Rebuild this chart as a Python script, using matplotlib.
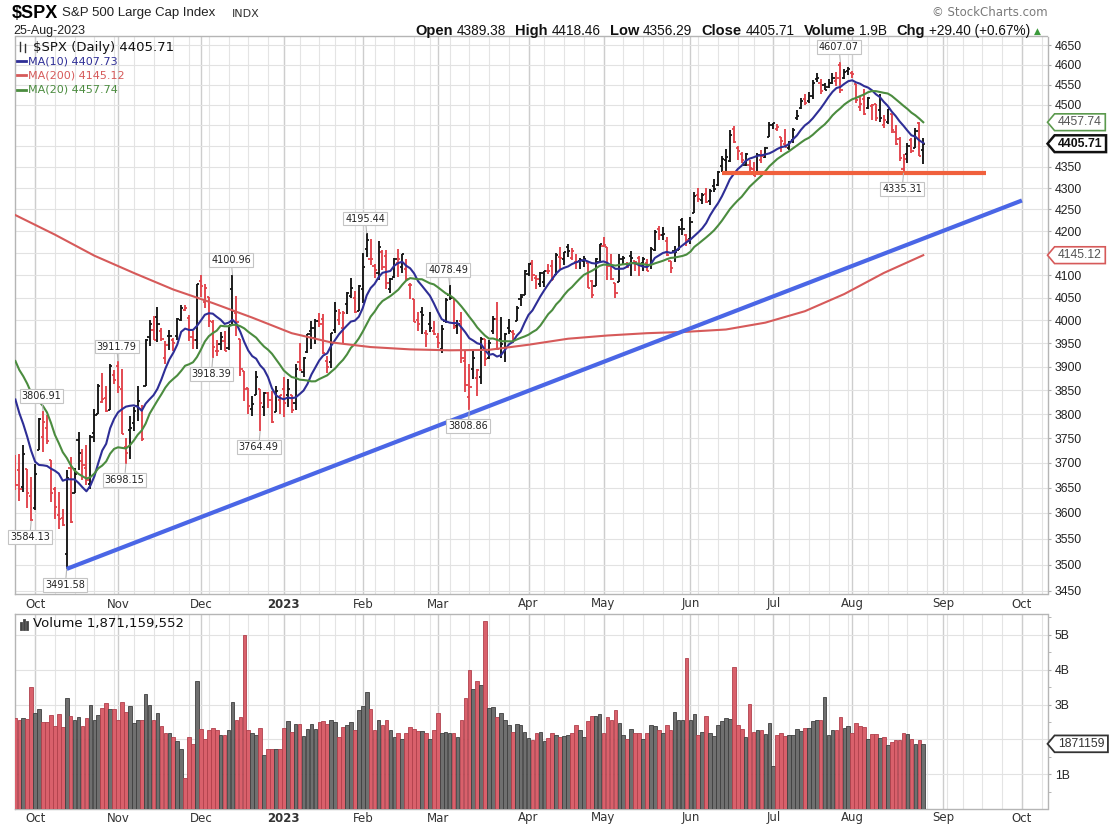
import matplotlib
matplotlib.use("Agg")
import matplotlib.pyplot as plt
from matplotlib.path import Path
from matplotlib.lines import Line2D
import numpy as np
import pandas as pd

W, H = 1111, 832

# ---- trading calendar (NYSE holidays removed) ----
holidays = ["2022-11-24", "2022-12-26", "2023-01-02", "2023-01-16", "2023-02-20",
            "2023-04-07", "2023-05-29", "2023-06-19", "2023-07-04", "2023-09-04"]
all_days = pd.bdate_range("2022-09-26", "2023-10-31")
all_days = all_days[~all_days.isin(pd.to_datetime(holidays))]
dates = all_days[all_days <= "2023-08-25"]

# closes before the window, only used for the 10/20 day averages
prior_closes = [4030.61, 3986.16, 3955.00, 3966.85, 3924.26, 3908.19, 3979.87, 4006.18,
                4067.36, 4110.41, 3932.69, 3946.01, 3901.35, 3873.33, 3899.89, 3855.93,
                3789.93, 3757.99, 3693.23]

opens = [
    3682.72, 3686.44, 3651.94, 3687.01, 3633.48,
    3609.78, 3726.46, 3753.25, 3771.97, 3706.74, 3647.51, 3595.86, 3590.83, 3520.37, 3690.41, 3638.65,
    3746.26, 3703.11, 3689.05, 3657.10, 3762.01, 3799.44, 3825.97, 3834.69, 3808.26, 3881.85,
    3901.79, 3852.90, 3733.25, 3766.98, 3780.71, 3817.02, 3810.94, 3859.89, 3963.72, 3977.97, 4006.41,
    3976.82, 3919.26, 3966.39, 3956.23, 3965.51, 4000.30, 4023.34, 4005.36, 3964.19, 3957.18,
    4087.14, 4040.17, 4052.02, 3996.63, 3933.28, 3947.79, 3954.17, 3939.29, 4069.38, 4015.54, 3958.37,
    3890.91, 3853.79, 3810.47, 3839.49, 3853.26, 3815.11, 3843.34, 3829.56, 3805.45, 3829.06,
    3853.29, 3840.36, 3839.74, 3823.37, 3910.82, 3888.57, 3932.35, 3977.57, 3960.60, 3999.28,
    4002.25, 3911.84, 3909.04, 3978.14, 4001.74, 3982.71, 4036.08, 4053.72, 4049.27, 4020.85,
    4070.07, 4158.68, 4136.69, 4119.57, 4105.35, 4153.47, 4144.25, 4068.92, 4096.62, 4126.70,
    4119.50, 4114.75, 4077.39, 4046.74, 4001.83, 4018.60, 3973.24, 3992.36, 3977.19,
    3963.34, 3938.68, 3998.02, 4055.15, 4048.26, 3987.55, 3998.66, 3912.77, 3835.12, 3894.01, 3876.74,
    3878.93, 3958.69, 3917.47, 3975.89, 4002.04, 3959.21, 3939.21, 3982.93, 3974.13, 3999.53, 4046.74, 4056.18,
    4102.20, 4128.03, 4094.50, 4081.15, 4085.20, 4110.29, 4121.72, 4100.04, 4140.11, 4137.17,
    4164.26, 4139.33, 4130.48, 4132.14, 4132.07, 4126.43, 4087.78, 4075.29, 4129.63,
    4166.79, 4164.10, 4122.25, 4082.61, 4084.73, 4136.98, 4124.25, 4143.74, 4132.24, 4138.54, 4126.65,
    4127.95, 4122.85, 4157.68, 4204.15, 4190.78, 4176.80, 4132.96, 4155.71, 4156.16, 4226.71, 4190.74,
    4183.03, 4241.01, 4282.99, 4271.34, 4285.47, 4268.69, 4304.88, 4308.32, 4352.61, 4366.29, 4365.33,
    4440.95, 4396.11, 4380.01, 4355.40, 4354.17, 4344.84, 4337.36, 4367.48, 4374.94, 4422.44,
    4450.48, 4442.04, 4422.62, 4404.54, 4394.23, 4415.55, 4467.69, 4491.50, 4514.61, 4508.86,
    4521.78, 4563.87, 4554.38, 4550.16, 4543.39, 4555.19, 4558.96, 4598.26, 4565.75, 4584.82,
    4578.83, 4550.93, 4494.27, 4513.96, 4491.58, 4498.03, 4501.57, 4487.16, 4450.69, 4458.13,
    4478.87, 4433.79, 4416.32, 4344.88, 4380.28, 4415.33, 4396.44, 4455.16, 4389.38,
]

highs = [
    3715.67, 3717.53, 3736.74, 3687.01, 3671.44,
    3698.35, 3791.92, 3806.91, 3797.93, 3706.74, 3652.17, 3640.66, 3608.34, 3685.41, 3712.00, 3689.73,
    3762.79, 3728.58, 3736.00, 3757.89, 3810.74, 3862.85, 3886.15, 3859.95, 3905.42, 3893.73,
    3911.79, 3894.44, 3750.59, 3796.34, 3813.95, 3859.40, 3818.20, 3958.33, 4001.48, 4008.97, 4028.84,
    3983.09, 3954.33, 3979.89, 3962.00, 4005.88, 4033.78, 4034.02, 4012.27, 3976.77, 4080.11,
    4100.51, 4080.48, 4052.45, 4001.51, 3957.57, 3974.19, 3977.02, 3990.71, 4100.96, 4053.76, 3958.37,
    3890.91, 3854.86, 3838.24, 3889.82, 3853.26, 3845.80, 3846.65, 3848.32, 3858.19, 3839.85,
    3878.46, 3873.16, 3839.74, 3906.19, 3950.57, 3919.83, 3970.07, 3997.76, 4003.95, 4015.39,
    4014.16, 3922.94, 3972.96, 4039.31, 4023.92, 4019.55, 4061.57, 4094.21, 4063.85, 4077.16,
    4148.95, 4195.44, 4182.36, 4124.63, 4176.54, 4156.85, 4156.23, 4094.36, 4138.90, 4159.77,
    4148.11, 4136.54, 4081.51, 4046.74, 4017.37, 4028.30, 3978.25, 4018.05, 3997.50,
    3971.73, 3990.84, 4048.29, 4078.49, 4050.00, 4000.41, 4017.81, 3934.05, 3905.05, 3937.29, 3894.26,
    3964.46, 3958.91, 3956.62, 4009.08, 4039.49, 4007.66, 3972.74, 4003.83, 3979.20, 4030.59, 4057.85, 4110.75,
    4127.66, 4133.13, 4099.69, 4107.32, 4109.50, 4124.26, 4134.37, 4150.26, 4163.19, 4151.72,
    4169.48, 4162.57, 4148.57, 4138.02, 4142.41, 4126.43, 4089.67, 4138.24, 4170.06,
    4186.92, 4164.10, 4148.30, 4082.61, 4147.02, 4142.30, 4130.35, 4154.28, 4132.80, 4143.74, 4141.25,
    4135.54, 4164.67, 4202.20, 4212.91, 4209.22, 4185.68, 4132.96, 4165.74, 4212.87, 4231.10, 4192.92,
    4232.43, 4290.67, 4299.28, 4288.33, 4299.19, 4298.01, 4322.62, 4340.13, 4375.37, 4391.82, 4439.20,
    4448.47, 4400.15, 4386.22, 4382.25, 4366.55, 4362.06, 4384.42, 4390.35, 4398.39, 4458.48,
    4456.46, 4454.06, 4422.62, 4440.39, 4412.60, 4443.64, 4488.34, 4517.38, 4527.76, 4532.85,
    4562.30, 4578.43, 4564.74, 4555.00, 4563.41, 4580.62, 4582.47, 4607.07, 4590.16, 4594.22,
    4584.62, 4550.93, 4519.49, 4540.34, 4519.84, 4503.31, 4502.44, 4527.37, 4476.23, 4490.33,
    4478.87, 4449.95, 4421.17, 4381.82, 4407.55, 4418.59, 4443.18, 4458.30, 4418.46,
]

lows = [
    3644.76, 3623.29, 3640.61, 3610.40, 3584.13,
    3604.93, 3726.46, 3722.66, 3739.22, 3620.73, 3588.10, 3568.45, 3573.86, 3491.58, 3579.68, 3638.65,
    3686.53, 3666.51, 3656.44, 3647.42, 3741.65, 3799.44, 3824.07, 3803.79, 3808.26, 3863.18,
    3843.80, 3758.68, 3698.15, 3708.84, 3764.70, 3786.28, 3744.22, 3859.89, 3944.82, 3956.40, 3953.17,
    3954.34, 3906.54, 3935.98, 3933.34, 3956.88, 3998.66, 4020.76, 3955.77, 3937.65, 3938.58,
    4050.87, 4026.63, 3984.49, 3918.39, 3922.68, 3935.83, 3933.04, 3935.30, 3993.03, 3965.65, 3879.45,
    3827.91, 3800.04, 3795.62, 3839.49, 3764.49, 3797.01, 3813.22, 3780.78, 3805.45, 3800.34,
    3794.33, 3815.77, 3802.42, 3809.56, 3890.42, 3877.29, 3928.54, 3937.56, 3947.67, 3984.57,
    3926.59, 3885.54, 3897.86, 3971.64, 3989.79, 3949.06, 4013.29, 4048.70, 4015.55, 4020.44,
    4037.20, 4141.88, 4123.36, 4093.38, 4088.39, 4111.67, 4069.67, 4060.79, 4092.67, 4095.01,
    4103.98, 4089.49, 4047.95, 3996.92, 3976.90, 3969.19, 3943.08, 3973.55, 3968.98,
    3939.05, 3928.16, 3995.17, 4044.61, 3980.31, 3969.76, 3908.70, 3846.32, 3808.86, 3873.63, 3838.24,
    3864.11, 3901.27, 3916.89, 3971.19, 3936.17, 3919.05, 3909.16, 3970.49, 3951.53, 3999.53, 4032.10, 4056.18,
    4098.79, 4086.87, 4069.84, 4073.60, 4072.55, 4102.61, 4086.94, 4099.40, 4113.20, 4123.18,
    4140.36, 4134.49, 4114.57, 4113.86, 4117.77, 4071.38, 4049.35, 4075.29, 4127.18,
    4164.12, 4089.72, 4088.86, 4048.28, 4084.73, 4123.81, 4116.65, 4098.92, 4109.29, 4099.12, 4110.27,
    4109.86, 4113.62, 4153.50, 4180.20, 4179.68, 4142.54, 4103.98, 4129.73, 4156.16, 4192.18, 4166.15,
    4171.64, 4241.01, 4266.82, 4263.09, 4263.96, 4261.07, 4291.70, 4304.37, 4337.54, 4337.85, 4362.60,
    4407.44, 4367.19, 4360.14, 4351.82, 4341.34, 4328.08, 4335.00, 4360.22, 4371.97, 4422.44,
    4442.29, 4436.61, 4385.05, 4397.40, 4389.92, 4408.46, 4463.23, 4489.36, 4499.56, 4504.90,
    4514.59, 4557.48, 4527.56, 4535.79, 4541.29, 4552.42, 4547.58, 4528.56, 4564.01, 4573.14,
    4567.53, 4505.75, 4485.54, 4474.55, 4491.15, 4464.39, 4461.33, 4457.92, 4443.98, 4453.44,
    4432.19, 4403.55, 4364.83, 4335.31, 4360.30, 4382.77, 4396.44, 4375.55, 4356.29,
]

closes = [
    3655.04, 3647.29, 3719.04, 3640.47, 3585.62,
    3678.43, 3790.93, 3783.28, 3744.52, 3639.66, 3612.39, 3588.84, 3577.03, 3669.91, 3583.07, 3677.95,
    3719.98, 3695.16, 3665.78, 3752.75, 3797.34, 3859.11, 3830.60, 3807.30, 3901.06, 3871.98,
    3856.10, 3759.69, 3719.89, 3770.55, 3806.80, 3828.11, 3748.57, 3956.37, 3992.93, 3957.25, 3991.73,
    3958.79, 3946.56, 3965.34, 3949.94, 4003.58, 4027.26, 4026.12, 3963.94, 3957.63, 4080.11,
    4076.57, 4071.70, 3998.84, 3941.26, 3933.92, 3963.51, 3934.38, 3990.56, 4019.65, 3995.32, 3895.75,
    3852.36, 3817.66, 3821.62, 3878.44, 3822.39, 3844.82, 3829.25, 3783.22, 3849.28, 3839.50,
    3824.14, 3852.97, 3808.10, 3895.08, 3892.09, 3919.25, 3969.61, 3983.17, 3999.09, 3990.97,
    3928.86, 3898.85, 3972.61, 4019.81, 4016.95, 4016.22, 4060.43, 4070.56, 4017.77, 4076.60,
    4119.21, 4179.76, 4136.48, 4111.08, 4164.00, 4117.86, 4081.50, 4090.46, 4137.29, 4136.13,
    4147.60, 4090.41, 4079.09, 3997.34, 3991.05, 4012.32, 3970.04, 3982.24, 3970.15,
    3951.39, 3981.35, 4045.64, 4048.42, 3986.37, 3992.01, 3918.32, 3861.59, 3855.76, 3919.29, 3891.93,
    3960.28, 3916.64, 3951.57, 4002.87, 3936.97, 3948.72, 3970.99, 3977.53, 3971.27, 4027.81, 4050.83, 4109.31,
    4124.51, 4100.60, 4090.38, 4105.02, 4109.11, 4108.94, 4091.95, 4146.22, 4137.64, 4151.32,
    4154.87, 4154.52, 4129.79, 4133.52, 4137.04, 4071.63, 4055.99, 4135.35, 4169.48,
    4167.87, 4119.58, 4090.75, 4061.22, 4136.25, 4138.12, 4119.17, 4137.64, 4130.62, 4124.08, 4136.28,
    4109.90, 4158.77, 4198.05, 4191.98, 4192.63, 4145.58, 4115.24, 4151.28, 4205.45, 4205.52, 4179.83,
    4221.02, 4282.37, 4273.79, 4283.85, 4267.52, 4293.93, 4298.86, 4338.93, 4369.01, 4372.59, 4425.84,
    4409.59, 4388.71, 4365.69, 4381.89, 4348.33, 4328.82, 4378.41, 4376.86, 4396.44, 4450.38,
    4455.59, 4446.82, 4411.59, 4398.95, 4409.53, 4439.26, 4472.16, 4510.04, 4505.42, 4522.79,
    4554.98, 4565.72, 4534.87, 4536.34, 4554.64, 4567.46, 4566.75, 4537.41, 4582.23, 4588.96,
    4576.73, 4513.39, 4501.89, 4478.03, 4518.44, 4499.38, 4467.71, 4468.83, 4464.05, 4489.72,
    4437.86, 4404.33, 4370.36, 4369.71, 4399.77, 4387.55, 4436.01, 4376.31, 4405.71,
]

# volume in billions of shares
volumes = [
    2.61, 2.55, 2.61, 2.59, 3.49,
    2.76, 2.88, 2.50, 2.50, 2.69, 2.39, 2.73, 2.35, 3.19, 2.66, 2.55, 2.64, 2.39, 2.61, 3.00,
    2.57, 2.69, 2.90, 3.03, 2.88, 2.88,
    2.57, 3.07, 2.80, 2.95, 2.46, 2.57, 2.55, 3.30, 3.00, 2.57, 2.76, 2.37, 2.18, 2.18, 2.08,
    1.96, 1.71, 0.90, 2.07, 1.88, 3.67,
    2.31, 2.02, 2.26, 2.33, 2.26, 2.12, 2.12, 2.26, 3.06, 2.55, 2.65, 5.00, 2.26, 2.19, 2.12,
    2.34, 1.56, 1.73, 1.73, 1.73, 1.73,
    2.34, 2.53, 2.21, 2.44, 2.44, 2.09, 2.31, 2.44, 2.31, 2.50, 2.53, 2.44, 2.57, 2.50, 2.07,
    2.36, 2.40, 2.50, 2.26, 2.83,
    2.96, 3.37, 2.88, 2.26, 2.57, 2.41, 2.55, 2.26, 2.07, 2.18, 2.02, 2.17, 2.36, 2.31, 2.24,
    2.24, 2.17, 2.02, 2.26,
    2.75, 2.17, 2.21, 2.19, 2.17, 2.07, 2.55, 3.19, 3.98, 3.45, 3.68, 3.55, 5.40, 2.90, 2.93,
    2.65, 2.76, 2.57, 2.41, 2.21, 2.43, 2.41, 2.21,
    2.05, 1.99, 2.17, 2.21, 1.96, 2.04, 2.17, 2.12, 2.07, 2.09, 2.12, 2.17, 2.41, 2.26, 2.07,
    2.53, 2.67, 2.67, 2.72,
    2.18, 2.65, 2.55, 2.83, 2.46, 2.12, 2.02, 2.29, 2.17, 2.17, 2.02, 2.17, 2.41, 2.38, 2.26,
    2.18, 2.41, 2.26, 2.80, 2.57, 2.55, 4.35,
    2.55, 2.72, 2.12, 2.21, 2.67, 2.18, 2.09, 2.41, 2.53, 2.60, 2.58, 4.09, 2.41, 2.31, 2.07,
    3.02, 2.21, 2.26, 2.26, 2.15, 2.46,
    1.24, 2.12, 2.18, 2.09, 2.12, 2.12, 2.29, 2.23, 2.34, 2.34, 2.53, 2.57, 2.57, 3.21, 2.12,
    2.26, 2.26, 2.65, 2.34, 2.38,
    2.17, 2.46, 2.38, 2.36, 2.02, 2.15, 2.15, 2.05, 2.07, 1.84, 1.92, 1.97, 1.99, 2.18, 2.15,
    2.02, 1.87, 1.99, 1.871159552,
]

# 200-day average, read every 10th bar
ma200_every10 = [4237, 4192, 4144, 4105, 4068, 4038, 4006, 3972, 3952, 3942, 3937, 3935,
                 3936, 3947, 3960, 3967, 3972, 3975, 3980, 3995, 4020, 4058, 4105, 4145.12]

# value labels on swing highs / lows
label_dates = ["2022-09-30", "2022-10-13", "2022-10-05", "2022-11-03", "2022-11-01", "2022-12-06",
               "2022-12-13", "2022-12-22", "2023-02-02", "2023-03-06", "2023-03-13", "2023-07-27",
               "2023-08-18"]
label_values = [3584.13, 3491.58, 3806.91, 3698.15, 3911.79, 3918.39, 4100.96, 3764.49,
                4195.44, 4078.49, 3808.86, 4607.07, 4335.31]
label_side = ["below", "below", "above", "below", "above", "below", "above", "below",
              "above", "above", "below", "above", "below"]

# drawn lines
trend_dates = ["2022-10-13", "2023-10-02"]
trend_values = [3491.58, 4271.0]
support_dates = ["2023-06-13", "2023-09-19"]
support_value = 4335.31

month_names = ["Oct", "Nov", "Dec", "2023", "Feb", "Mar", "Apr", "May", "Jun", "Jul",
               "Aug", "Sep", "Oct"]

# ---------------------------------------------------------------
opens = np.array(opens); highs = np.array(highs)
lows = np.array(lows); closes = np.array(closes); volumes = np.array(volumes)
pos = {d: i for i, d in enumerate(all_days)}
x = np.arange(len(closes))

closes_all = pd.Series(prior_closes + list(closes))
ma10 = closes_all.rolling(10).mean().to_numpy()[len(prior_closes):]
ma20 = closes_all.rolling(20).mean().to_numpy()[len(prior_closes):]

prev = np.r_[prior_closes[-1], closes[:-1]]
up = closes >= prev
RED, BLK = "#e2434b", "#151515"
bar_cols = np.where(up, BLK, RED)

C_MA10, C_MA20, C_MA200 = "#2e2e96", "#4b8c3f", "#d65a5a"

fig = plt.figure(figsize=(W / 100, H / 100), dpi=100)
fig.patch.set_facecolor("white")


def fx(px):
    return px / W


def fy(py):
    return 1 - py / H


ax = fig.add_axes([fx(15), fy(594), (1048 - 15) / W, (594 - 36) / H])
axv = fig.add_axes([fx(15), fy(809), (1048 - 15) / W, (809 - 614) / H])
XMAX = 261.6

# week and month starts for the vertical grid
s = pd.Series(all_days)
week_start = [i for i in range(1, len(s)) if s[i].isocalendar()[1] != s[i - 1].isocalendar()[1]]
month_start = [i for i in range(1, len(s)) if s[i].month != s[i - 1].month]

for a in (ax, axv):
    a.set_xlim(-0.1, XMAX)
    for i in week_start:
        a.axvline(i, color="#e4e4e4", lw=0.8, zorder=0)
    for i in month_start:
        a.axvline(i, color="#cdcdcd", lw=1.0, zorder=0)
    for sp in a.spines.values():
        sp.set_color("#b5b5b5")
        sp.set_linestyle((0, (1, 1)))
        sp.set_linewidth(1.0)
    a.tick_params(axis="x", bottom=False, labelbottom=False)

# ---- price panel ----
ax.set_yscale("log")
ax.set_ylim(3444, 4673)
levels = np.arange(3450, 4651, 50)
for lv in levels:
    ax.axhline(lv, color="#e2e2e2", lw=0.8, zorder=0)
shown = [lv for lv in levels if lv not in (4400, 4450, 4150)]
ax.yaxis.tick_right()
ax.yaxis.set_minor_locator(matplotlib.ticker.NullLocator())
ax.set_yticks(shown)
ax.set_yticklabels([str(v) for v in shown], fontfamily="Liberation Sans", fontsize=8.8,
                   color="#222222")
ax.tick_params(axis="y", length=2, color="#aaaaaa", pad=3)

ax.vlines(x, lows, highs, colors=bar_cols, lw=1.35, zorder=3)
ax.hlines(opens, x - 0.55, x, colors=bar_cols, lw=1.3, zorder=3)
ax.hlines(closes, x, x + 0.55, colors=bar_cols, lw=1.3, zorder=3)

ax.plot(x, ma10, color=C_MA10, lw=1.5, zorder=4)
ax.plot(x, ma20, color=C_MA20, lw=1.5, zorder=4)
ax.plot(x[::10], ma200_every10, color=C_MA200, lw=1.5, zorder=4)

ax.plot([pos[pd.Timestamp(d)] for d in trend_dates], trend_values, color="#4a66e6",
        lw=3, solid_capstyle="butt", zorder=5)
ax.plot([pos[pd.Timestamp(d)] for d in support_dates], [support_value] * 2, color="#f0603c",
        lw=3, solid_capstyle="butt", zorder=5)

for d, v, side in zip(label_dates, label_values, label_side):
    off = 10.5 if side == "above" else -11.5
    ax.annotate(f"{v:.2f}", xy=(pos[pd.Timestamp(d)], v), xytext=(-1, off),
                textcoords="offset points", ha="center", va="center", fontsize=7,
                fontfamily="DejaVu Sans", color="#222222", zorder=6,
                bbox=dict(boxstyle="square,pad=0.2", fc="white", ec="#c4c4c4", lw=0.8),
                arrowprops=dict(arrowstyle="-", color="#b5b5b5", lw=0.8,
                                shrinkA=0, shrinkB=0))


def tag_shape(x0, y0, width, height, mutation_size):
    pad = 0.28 * mutation_size
    x0, y0, width, height = x0 - pad, y0 - pad * 0.7, width + 2 * pad, height + 1.4 * pad
    tip = height * 0.42
    verts = [(x0 - tip, y0 + height / 2), (x0, y0 + height), (x0 + width, y0 + height),
             (x0 + width, y0), (x0, y0), (x0 - tip, y0 + height / 2)]
    return Path(verts, closed=True)


def right_tag(a, val, text, ec, tc, bold=False, lw=1.2):
    a.text(1 + 10 / 1033, val, text, transform=a.get_yaxis_transform(), ha="left",
           va="center", fontsize=8.8, fontfamily="Liberation Sans", color=tc,
           fontweight="bold" if bold else "normal", clip_on=False, zorder=10,
           bbox=dict(boxstyle=tag_shape, fc="white", ec=ec, lw=lw))


right_tag(ax, ma20[-1], f"{ma20[-1]:.2f}", "#5c9a4e", "#555555")
right_tag(ax, closes[-1], f"{closes[-1]:.2f}", "#111111", "#111111", bold=True, lw=1.8)
right_tag(ax, ma200_every10[-1], f"{ma200_every10[-1]:.2f}", "#d65a5a", "#555555")

# ---- volume panel ----
vol_fill = np.where(up, "#6f6f6f", "#d9606b")
vol_edge = np.where(up, "#3f3f3f", "#b0404c")
axv.bar(x, volumes, width=0.92, color=vol_fill, edgecolor=vol_edge, lw=0.6, zorder=3)
axv.set_ylim(0, 5.6)
for lv in [1, 2, 3, 4, 5]:
    axv.axhline(lv, color="#e2e2e2", lw=0.8, zorder=0)
axv.yaxis.tick_right()
axv.set_yticks([1, 3, 4, 5])
axv.set_yticklabels(["1B", "3B", "4B", "5B"], fontfamily="Liberation Sans", fontsize=8.8,
                    color="#222222")
axv.set_yticks(np.arange(0.5, 5.6, 0.5), minor=True)
axv.tick_params(axis="y", which="both", length=2, color="#aaaaaa", pad=3)
axv.text(1 + 10 / 1033, volumes[-1], f"{volumes[-1] * 1e9:.0f}"[:7],
         transform=axv.get_yaxis_transform(), ha="left", va="center", fontsize=8.8,
         fontfamily="Liberation Sans", color="#333333", clip_on=False, zorder=10,
         bbox=dict(boxstyle=tag_shape, fc="white", ec="#333333", lw=1.3))

# month labels between and below the panels
for i, name in zip(month_start, month_names):
    fw = "bold" if name == "2023" else "normal"
    for a, yy in ((ax, -10 / 558), (axv, -9 / 195)):
        a.text(i, yy, name, transform=a.get_xaxis_transform(), ha="center", va="center",
               fontsize=8.5, fontfamily="DejaVu Sans", fontweight=fw, color="#333333",
               clip_on=False)

# ---- header ----
fig.text(fx(12), fy(13), "$SPX", fontsize=13, fontweight="bold",
         fontfamily="Liberation Sans", va="center")
fig.text(fx(62), fy(13), "S&P 500 Large Cap Index", fontsize=9.5,
         fontfamily="Liberation Sans", va="center", color="#222222")
fig.text(fx(232), fy(14), "INDX", fontsize=8, fontfamily="DejaVu Sans", va="center",
         color="#333333")
fig.text(fx(13), fy(31), dates[-1].strftime("%d-%b-%Y"), fontsize=9,
         fontfamily="Liberation Sans", va="center", color="#222222")
fig.text(fx(1048), fy(13), "\u00a9 StockCharts.com", fontsize=8.5, fontfamily="DejaVu Sans",
         va="center", ha="right", color="#7a7a7a")

chg = closes[-1] - closes[-2]
header = [("Open", True), (f"{opens[-1]:.2f}", False),
          ("High", True), (f"{highs[-1]:.2f}", False),
          ("Low", True), (f"{lows[-1]:.2f}", False),
          ("Close", True), (f"{closes[-1]:.2f}", False),
          ("Volume", True), (f"{volumes[-1]:.1f}B", False),
          ("Chg", True), (f"{chg:+.2f} ({chg / closes[-2] * 100:+.2f}%)", False)]
renderer = fig.canvas.get_renderer()
pieces = []
for txt, bold in header:
    t = fig.text(0, fy(31), txt, fontsize=10.5 if bold else 9.8,
                 fontweight="bold" if bold else "normal", fontfamily="Liberation Sans",
                 va="center", color="#111111")
    pieces.append((t, t.get_window_extent(renderer).width, 4 if bold else 9))
total = sum(w + g for _, w, g in pieces) - pieces[-1][2]
xcur = 1030 - total
for t, w, g in pieces:
    t.set_x(fx(xcur))
    xcur += w + g
fig.text(fx(1034), fy(31), "\u25b2", fontsize=6.5, fontfamily="DejaVu Sans",
         va="center", color="#3b9a3b")

# ---- in-panel legends ----
fig.text(fx(33), fy(47), f"$SPX (Daily) {closes[-1]:.2f}", fontsize=9.5,
         fontfamily="DejaVu Sans", va="center", color="#111111")
for k, (lab, val, col) in enumerate([("MA(10)", ma10[-1], C_MA10),
                                     ("MA(200)", ma200_every10[-1], C_MA200),
                                     ("MA(20)", ma20[-1], C_MA20)]):
    yy = 61 + 14.3 * k
    fig.add_artist(Line2D([fx(17), fx(26)], [fy(yy), fy(yy)], color=col, lw=2))
    fig.text(fx(28), fy(yy), f"{lab} {val:.2f}", fontsize=8, fontfamily="DejaVu Sans",
             va="center", color=col)
fig.text(fx(33), fy(624), f"Volume {volumes[-1] * 1e9:,.0f}", fontsize=9.5,
         fontfamily="DejaVu Sans", va="center", color="#111111")

# tiny glyphs before the legend texts
for dx, (lo, hi) in enumerate([(42, 51), (44, 52)]):
    xx = 20 + dx * 5
    fig.add_artist(Line2D([fx(xx), fx(xx)], [fy(hi), fy(lo)], color="#333333", lw=1))
for dx, hgt in enumerate([6, 9, 7]):
    xx = 21 + dx * 3
    fig.add_artist(Line2D([fx(xx), fx(xx)], [fy(629), fy(629 - hgt)], color="#444444", lw=2))

fig.savefig("out.png", dpi=100, facecolor="white")
